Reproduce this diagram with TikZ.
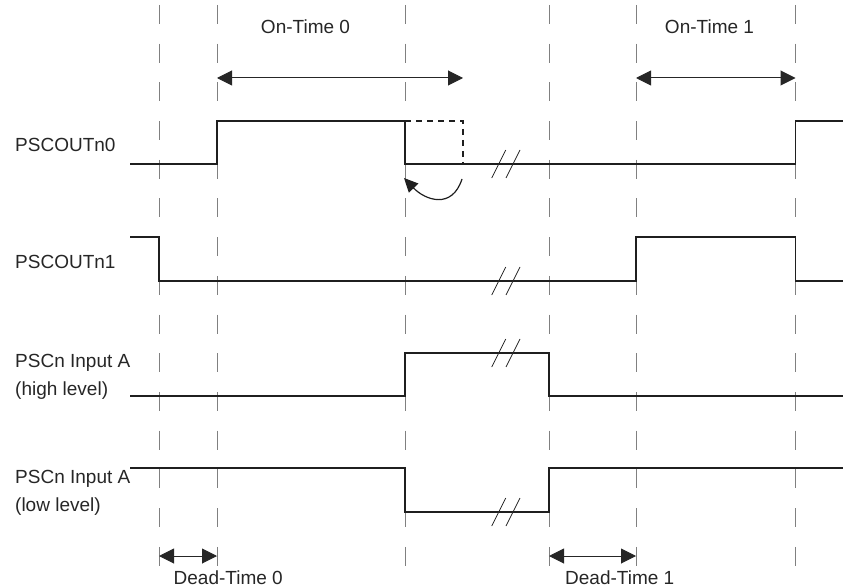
\documentclass[tikz,border=0pt]{standalone}
\usepackage{fontspec}
\setmainfont{Liberation Sans}
\usetikzlibrary{arrows.meta}
\begin{document}
\begin{tikzpicture}[x=1pt,y=-1pt,
  gridline/.style={draw=black!50, line width=1pt, dash pattern=on 19pt off 19.7pt},
  wave/.style={draw=black!88, line width=1.4pt, line join=miter},
  lbl/.style={font=\fontsize{19}{23}\selectfont, inner sep=0pt, text=black!85},
  dimarrow/.style={draw=black!85, line width=1pt, {Triangle[length=15pt,width=15pt]}-{Triangle[length=15pt,width=15pt]}},
  brk/.style={draw=black!85, line width=0.8pt},
  ghost/.style={draw=black!88, line width=1.2pt, dash pattern=on 6pt off 5pt},
  curvearrow/.style={draw=black!88, line width=1.2pt, -{Triangle[length=14pt,width=13pt]}}]
\useasboundingbox (0,0) rectangle (843,588);

% vertical dashed grid
\foreach \x/\n in {159/g1,217/g2,405/g3,549/g4,636/g5,795.5/g6} {
  \coordinate (\n top) at (\x,5);
  \coordinate (\n bot) at (\x,566);
  \draw[gridline] (\n top) -- (\n bot);
}

% signal labels
\node[lbl,anchor=base west] (l0) at (15,152) {PSCOUTn0};
\node[lbl,anchor=base west] (l1) at (15,268) {PSCOUTn1};
\node[lbl,anchor=base west] (la) at (15,367) {PSCn Input A};
\node[lbl,anchor=base west] (lah) at (15,395) {(high level)};
\node[lbl,anchor=base west] (lb) at (15,483) {PSCn Input A};
\node[lbl,anchor=base west] (lbl) at (15,511) {(low level)};

% waveforms
\draw[wave] (130,164) -- (217,164) -- (217,121) -- (405,121) -- (405,164) -- (795.5,164) -- (795.5,121) -- (843,121);
\draw[wave] (130,237) -- (159,237) -- (159,281) -- (636,281) -- (636,237) -- (795.5,237) -- (795.5,281) -- (843,281);
\draw[wave] (130,396) -- (405,396) -- (405,353) -- (549,353) -- (549,396) -- (843,396);
\draw[wave] (130,468) -- (405,468) -- (405,512) -- (549,512) -- (549,468) -- (843,468);

% ghost pulse and curved arrow
\draw[ghost] (405,121) -- (463,121) -- (463,164);
\coordinate (cs) at (462,179);
\coordinate (ce) at (404,178);
\draw[curvearrow] (cs) .. controls (452,210) and (425,200) .. (ce);

% break marks
\foreach \y in {164,281,353,512} {
  \draw[brk] (491.7,{\y+14}) -- (505.7,{\y-14});
  \draw[brk] (506,{\y+14}) -- (520,{\y-14});
}

% on-time arrows
\coordinate (a0s) at (217,78);
\coordinate (a0e) at (463,78);
\coordinate (a1s) at (636,78);
\coordinate (a1e) at (795.5,78);
\draw[dimarrow] (a0s) -- (a0e);
\draw[dimarrow] (a1s) -- (a1e);
\node[lbl,anchor=base] (t0) at (305.5,34) {On-Time 0};
\node[lbl,anchor=base] (t1) at (709.5,34) {On-Time 1};

% dead-time arrows
\coordinate (d0s) at (159,556);
\coordinate (d0e) at (217,556);
\coordinate (d1s) at (549,556);
\coordinate (d1e) at (636,556);
\draw[dimarrow] (d0s) -- (d0e);
\draw[dimarrow] (d1s) -- (d1e);
\node[lbl,anchor=base west] (dt0) at (173.5,584) {Dead-Time 0};
\node[lbl,anchor=base west] (dt1) at (565,584) {Dead-Time 1};
\end{tikzpicture}
\end{document}
